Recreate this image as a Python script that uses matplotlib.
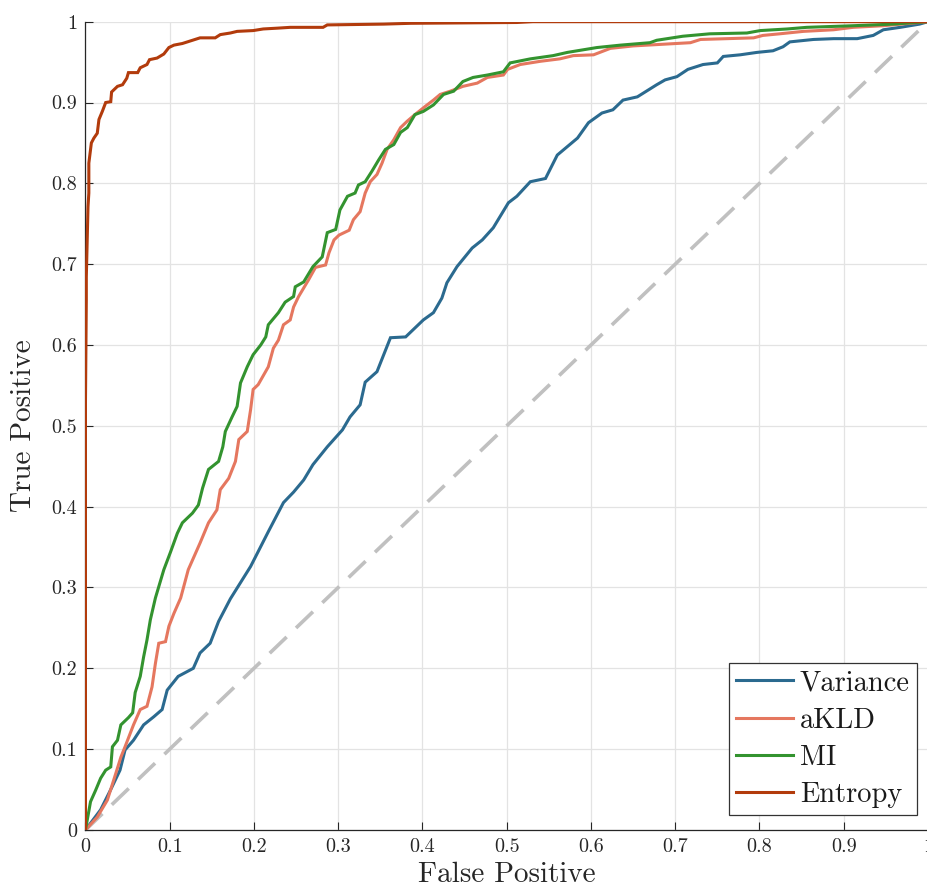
import matplotlib
matplotlib.use("Agg")
import matplotlib.pyplot as plt
import numpy as np

plt.rcParams["font.family"] = "serif"
plt.rcParams["font.serif"] = ["cmr10", "DejaVu Serif"]
plt.rcParams["mathtext.fontset"] = "cm"
plt.rcParams["axes.formatter.use_mathtext"] = True

# ROC curves: (false positive rate, true positive rate)
variance_fp = [0, 0.018, 0.030, 0.041, 0.047, 0.057, 0.069, 0.081, 0.091, 0.097, 0.110, 0.128,
               0.136, 0.148, 0.158, 0.172, 0.196, 0.217, 0.235, 0.247, 0.259, 0.270, 0.287,
               0.305, 0.314, 0.326, 0.332, 0.346, 0.362, 0.380, 0.401, 0.413, 0.423, 0.429,
               0.441, 0.459, 0.471, 0.484, 0.502, 0.512, 0.528, 0.546, 0.560, 0.584, 0.597,
               0.613, 0.626, 0.638, 0.655, 0.678, 0.688, 0.702, 0.715, 0.733, 0.750, 0.757,
               0.777, 0.797, 0.816, 0.828, 0.836, 0.864, 0.888, 0.916, 0.935, 0.947, 0.967,
               0.990, 1.0]
variance_tp = [0, 0.025, 0.050, 0.074, 0.099, 0.111, 0.130, 0.140, 0.149, 0.173, 0.190, 0.200,
               0.219, 0.231, 0.258, 0.286, 0.326, 0.369, 0.405, 0.418, 0.433, 0.452, 0.474,
               0.495, 0.511, 0.526, 0.554, 0.567, 0.609, 0.610, 0.631, 0.640, 0.658, 0.677,
               0.697, 0.720, 0.730, 0.745, 0.776, 0.784, 0.802, 0.806, 0.835, 0.856, 0.875,
               0.887, 0.891, 0.903, 0.907, 0.922, 0.928, 0.932, 0.941, 0.947, 0.949, 0.957,
               0.959, 0.962, 0.964, 0.969, 0.975, 0.978, 0.979, 0.979, 0.983, 0.990, 0.993,
               0.997, 1.0]

akld_fp = [0, 0.014, 0.026, 0.036, 0.042, 0.047, 0.057, 0.065, 0.073, 0.079, 0.083, 0.087,
           0.095, 0.099, 0.105, 0.113, 0.122, 0.136, 0.146, 0.156, 0.160, 0.170, 0.178, 0.182,
           0.192, 0.196, 0.199, 0.205, 0.217, 0.223, 0.229, 0.235, 0.243, 0.247, 0.253, 0.265,
           0.273, 0.285, 0.289, 0.295, 0.301, 0.313, 0.318, 0.326, 0.332, 0.338, 0.346, 0.352,
           0.358, 0.366, 0.374, 0.382, 0.391, 0.403, 0.413, 0.421, 0.433, 0.448, 0.465, 0.477,
           0.496, 0.501, 0.516, 0.540, 0.563, 0.579, 0.603, 0.623, 0.650, 0.718, 0.730, 0.793,
           0.804, 0.824, 0.852, 0.888, 0.911, 0.947, 1.0]
akld_tp = [0, 0.016, 0.037, 0.070, 0.090, 0.103, 0.130, 0.149, 0.153, 0.177, 0.206, 0.231,
           0.233, 0.252, 0.268, 0.287, 0.322, 0.355, 0.380, 0.396, 0.421, 0.435, 0.456, 0.483,
           0.493, 0.520, 0.545, 0.551, 0.573, 0.596, 0.606, 0.625, 0.631, 0.647, 0.660, 0.681,
           0.696, 0.699, 0.714, 0.730, 0.736, 0.742, 0.755, 0.765, 0.788, 0.802, 0.811, 0.825,
           0.842, 0.854, 0.869, 0.877, 0.885, 0.895, 0.903, 0.910, 0.914, 0.920, 0.924, 0.931,
           0.934, 0.941, 0.947, 0.951, 0.954, 0.958, 0.959, 0.967, 0.970, 0.974, 0.978, 0.980,
           0.983, 0.985, 0.988, 0.990, 0.993, 0.995, 1.0]

mi_fp = [0, 0.006, 0.012, 0.018, 0.024, 0.030, 0.032, 0.038, 0.042, 0.051, 0.056, 0.059,
         0.065, 0.069, 0.073, 0.077, 0.083, 0.093, 0.101, 0.109, 0.115, 0.127, 0.134, 0.139,
         0.146, 0.158, 0.163, 0.166, 0.174, 0.180, 0.184, 0.192, 0.199, 0.208, 0.214, 0.217,
         0.229, 0.237, 0.247, 0.249, 0.259, 0.270, 0.281, 0.287, 0.297, 0.302, 0.311, 0.320,
         0.324, 0.332, 0.340, 0.348, 0.356, 0.366, 0.374, 0.382, 0.391, 0.401, 0.413, 0.425,
         0.437, 0.448, 0.460, 0.477, 0.496, 0.504, 0.528, 0.555, 0.572, 0.607, 0.635, 0.670,
         0.678, 0.709, 0.741, 0.785, 0.801, 0.833, 0.856, 0.911, 0.958, 1.0]
mi_tp = [0, 0.035, 0.049, 0.064, 0.074, 0.078, 0.103, 0.111, 0.130, 0.139, 0.145, 0.170,
         0.190, 0.214, 0.235, 0.260, 0.287, 0.322, 0.344, 0.367, 0.380, 0.392, 0.402, 0.423,
         0.446, 0.456, 0.474, 0.493, 0.511, 0.524, 0.553, 0.573, 0.588, 0.600, 0.610, 0.625,
         0.640, 0.653, 0.660, 0.672, 0.678, 0.697, 0.709, 0.739, 0.743, 0.767, 0.784, 0.788,
         0.798, 0.802, 0.815, 0.829, 0.842, 0.848, 0.863, 0.869, 0.885, 0.889, 0.897, 0.910,
         0.914, 0.926, 0.931, 0.934, 0.938, 0.949, 0.954, 0.958, 0.962, 0.968, 0.971, 0.974,
         0.977, 0.982, 0.985, 0.986, 0.989, 0.991, 0.993, 0.995, 0.997, 1.0]

entropy_fp = [0, 0, 0.001, 0.001, 0.003, 0.004, 0.004, 0.007, 0.010, 0.014, 0.016, 0.020,
              0.024, 0.030, 0.031, 0.038, 0.044, 0.049, 0.051, 0.062, 0.065, 0.073, 0.076,
              0.085, 0.093, 0.099, 0.105, 0.115, 0.127, 0.136, 0.154, 0.160, 0.172, 0.180,
              0.199, 0.211, 0.228, 0.243, 0.255, 0.282, 0.287, 0.354, 0.386, 0.512, 0.531, 1.0]
entropy_tp = [0, 0.530, 0.656, 0.684, 0.771, 0.788, 0.825, 0.850, 0.856, 0.862, 0.879, 0.889,
              0.900, 0.901, 0.913, 0.920, 0.922, 0.930, 0.937, 0.937, 0.943, 0.947, 0.953,
              0.955, 0.960, 0.968, 0.971, 0.973, 0.977, 0.980, 0.980, 0.984, 0.986, 0.988,
              0.989, 0.991, 0.992, 0.993, 0.993, 0.993, 0.996, 0.997, 0.998, 0.999, 1.0, 1.0]

series = [
    ("Variance", variance_fp, variance_tp, "#2b6a8f"),
    ("aKLD", akld_fp, akld_tp, "#e5775f"),
    ("MI", mi_fp, mi_tp, "#33932f"),
    ("Entropy", entropy_fp, entropy_tp, "#b23b0c"),
]

ticks = np.round(np.arange(0, 1.01, 0.1), 1)
tick_labels = ["0", "0.1", "0.2", "0.3", "0.4", "0.5", "0.6", "0.7", "0.8", "0.9", "1"]

fig = plt.figure(figsize=(9.28, 8.96), dpi=100)
ax = fig.add_axes([0.0921, 0.0737, 0.9079, 0.9021])

# chance diagonal
ax.plot([0, 1], [0, 1], color="#c0c0c0", lw=2.6, linestyle=(0, (6.5, 3.6)), zorder=1)

for name, fp, tp, col in series:
    ax.plot(fp, tp, color=col, lw=2.2, label=name, zorder=3, solid_joinstyle="miter")

ax.set_xlim(0, 1)
ax.set_ylim(0, 1)
ax.set_xticks(ticks)
ax.set_yticks(ticks)
ax.set_xticklabels(tick_labels)
ax.set_yticklabels(tick_labels)
ax.tick_params(direction="in", length=5.5, width=0.8, color="#262626",
               labelsize=14.5, labelcolor="#262626", pad=6)
ax.grid(True, color="#e3e3e3", lw=0.9, zorder=0)
ax.set_axisbelow(True)
for side in ("top", "right"):
    ax.spines[side].set_visible(False)
for side in ("left", "bottom"):
    ax.spines[side].set_color("#262626")
    ax.spines[side].set_linewidth(0.9)

ax.set_xlabel("False Positive", fontsize=21, color="#262626", labelpad=4)
ax.set_ylabel("True Positive", fontsize=21, color="#262626", labelpad=10)

leg = ax.legend(loc="lower right", bbox_to_anchor=(0.987, 0.0186), borderaxespad=0,
                fontsize=20.5, handlelength=2.0, handletextpad=0.25, labelspacing=0.38,
                borderpad=0.25, fancybox=False, framealpha=1, edgecolor="#333333")
leg.get_frame().set_linewidth(0.9)
for t in leg.get_texts():
    t.set_color("#1a1a1a")

fig.savefig("out.png", dpi=100)
